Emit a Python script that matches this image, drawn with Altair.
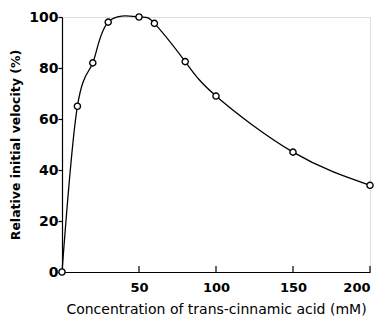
import altair as alt
import pandas as pd

conc = [0, 10, 20, 30, 50, 60, 80, 100, 150, 200]
velocity = [0, 65, 82, 98, 100, 97.5, 82.5, 69, 47, 34]
x_ticks = [50, 100, 150, 200]
y_ticks = [0, 20, 40, 60, 80, 100]

df = pd.DataFrame({"conc": conc, "vel": velocity})
tick_df = pd.DataFrame({"t": x_ticks, "y0": [0] * len(x_ticks), "y1": [2.4] * len(x_ticks)})

FONT = "DejaVu Sans"

xscale = alt.Scale(domain=[0, 200], nice=False, zero=True)
yscale = alt.Scale(domain=[0, 100], nice=False)

x = alt.X("conc:Q", scale=xscale,
          axis=alt.Axis(values=x_ticks, title="Concentration of trans-cinnamic acid  (mM)",
                        grid=False, ticks=False, labelPadding=9, labelFontSize=13,
                        labelFontWeight="bold",
                        labelFont=FONT, titleFont=FONT, titleFontSize=14,
                        titleFontWeight="normal", titlePadding=8, domainColor="black",
                        labelColor="black", titleColor="black", domainWidth=1.2))
y = alt.Y("vel:Q", scale=yscale,
          axis=alt.Axis(values=y_ticks, title="Relative initial velocity (%)",
                        grid=False, tickSize=4, labelPadding=0, labelFontSize=14,
                        labelFontWeight="bold",
                        labelFont=FONT, titleFont=FONT, titleFontSize=12.5,
                        titleFontWeight="bold", titlePadding=6, domainColor="black",
                        tickColor="black", labelColor="black", titleColor="black",
                        domainWidth=1.2, tickWidth=1.2))

line = alt.Chart(df).mark_line(interpolate="natural", color="black", strokeWidth=1.3).encode(x=x, y=y)
pts = alt.Chart(df).mark_point(shape="circle", size=38, filled=False, fill="white",
                               color="black", strokeWidth=1.4, opacity=1).encode(x=x, y=y)
ticks = alt.Chart(tick_df).mark_rule(color="black", strokeWidth=1.2).encode(
    x=alt.X("t:Q", scale=xscale), y=alt.Y("y0:Q", scale=yscale), y2="y1:Q")

chart = (ticks + line + pts).properties(
    width=308, height=255,
    autosize=alt.AutoSizeParams(type="none"),
    padding={"left": 62, "top": 17, "right": 17, "bottom": 48},
).configure_view(stroke=None).configure(background="white")

chart.save("out.html", embed_options={"renderer": "svg", "actions": False})
